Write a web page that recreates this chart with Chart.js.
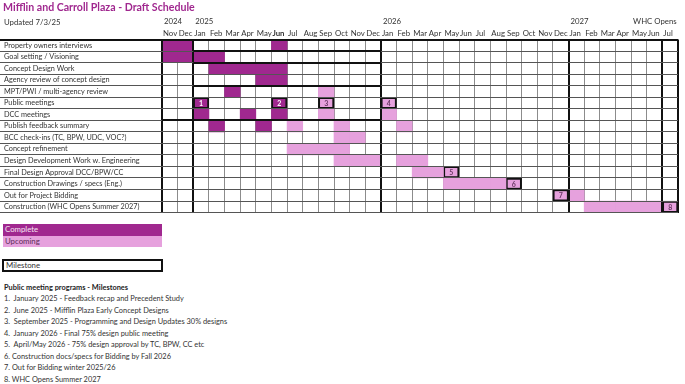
<!DOCTYPE html>
<html>
<head>
<meta charset="utf-8">
<script src="https://cdn.jsdelivr.net/npm/chart.js@4.4.1/dist/chart.umd.min.js"></script>
<style>
    body { margin: 0; background: #fff; }
    #wrap { position: relative; width: 685px; height: 384px; overflow: hidden;
            font-family: Lato, Roboto, sans-serif; color: #333; }
    #chart { position: absolute; left: 0; top: 0; }
    .title { position: absolute; left: 3px; top: 1px; font-size: 10.6px; font-weight: bold; color: #a0288f; }
    .updated { position: absolute; left: 4px; top: 17px; font-size: 7.8px; color: #333; }
    .cell { position: absolute; left: 3px; width: 157px; height: 11.5px; line-height: 11.5px;
            font-size: 7.8px; padding-left: 2px; }
    .complete { top: 224px; background: #a0288f; color: #f6e6f3; }
    .upcoming { top: 235.5px; background: #e6a1dd; color: #5b2d58; }
    .milestone { position: absolute; left: 2px; top: 259px; width: 155px; height: 9px; line-height: 9px;
                 border: 2px solid #111; font-size: 7.8px; padding-left: 2px; }
    .notes { position: absolute; left: 4px; top: 282px; font-size: 7.4px; line-height: 11.45px; white-space: pre; }
    .notes b { color: #222; }
</style>
</head>
<body>
<div id="wrap">
    <canvas id="chart" width="685" height="220"></canvas>
    <div class="title">Mifflin and Carroll Plaza - Draft Schedule</div>
    <div class="updated">Updated 7/3/25</div>
    <div class="cell complete">Complete</div>
    <div class="cell upcoming">Upcoming</div>
    <div class="milestone">Milestone</div>
    <div class="notes"><b>Public meeting programs - Milestones</b>
1.  January 2025 - Feedback recap and Precedent Study
2.  June 2025 - Mifflin Plaza Early Concept Designs
3.  September 2025 - Programming and Design Updates 30% designs
4.  January 2026 - Final 75% design public meeting
5.  April/May 2026 - 75% design approval by TC, BPW, CC etc
6. Construction docs/specs for Bidding by Fall 2026
7. Out for Bidding winter 2025/26
8. WHC Opens Summer 2027</div>
</div>

<script>
// Month columns, Nov 2024 .. Jul 2027
const months = ['Nov', 'Dec', 'Jan', 'Feb', 'Mar', 'Apr', 'May', 'Jun', 'Jul', 'Aug', 'Sep', 'Oct',
    'Nov', 'Dec', 'Jan', 'Feb', 'Mar', 'Apr', 'May', 'Jun', 'Jul', 'Aug', 'Sep', 'Oct',
    'Nov', 'Dec', 'Jan', 'Feb', 'Mar', 'Apr', 'May', 'Jun', 'Jul'];
const yearCols = [0, 2, 14, 26, 30];
const yearNames = ['2024', '2025', '2026', '2027', 'WHC Opens'];

const tasks = [
    'Property owners interviews',
    'Goal setting / Visioning',
    'Concept Design Work',
    'Agency review of concept design',
    'MPT/PWI / multi-agency review',
    'Public meetings',
    'DCC meetings',
    'Publish feedback summary',
    'BCC check-ins (TC, BPW, UDC, VOC?)',
    'Concept refinement',
    'Design Development Work w. Engineering',
    'Final Design Approval DCC/BPW/CC',
    'Construction Drawings / specs (Eng.)',
    'Out for Project Bidding',
    'Construction (WHC Opens Summer 2027)'
];

// month column indexes per task
const completeCells = [[0, 1, 7], [0, 1, 2, 3], [3, 4, 5, 6, 7], [6, 7], [4], [], [2, 5, 7], [3, 6],
    [], [], [], [], [], [], []];
const upcomingCells = [[], [], [], [], [10], [], [10, 14], [8, 11, 15], [11, 12], [8, 9, 10, 11],
    [11, 12, 13, 15, 16], [16, 17], [18, 19, 20, 21], [26], [27, 28, 29, 30, 31]];

const milestoneNums = [1, 2, 3, 4, 5, 6, 7, 8];
const milestoneRows = [5, 5, 5, 5, 11, 12, 13, 14];
const milestoneCols = [2, 7, 10, 14, 18, 22, 25, 32];
const milestoneDone = [true, true, false, false, false, false, false, false];

// heavy cell borders of the sheet
const thickCols = [0, 2, 14, 26, 32, 33];
const boxEdgeRows = [1, 2, 4, 7];
const boxEdgeFrom = [2, 2, 2, 0];
const boxEdgeTo = [14, 14, 14, 14];

const PURPLE = '#a0288f';
const PINK = '#e6a1dd';
const FONT = "Lato, Roboto, sans-serif";

function cellsToBars(cells) {
    const out = [];
    cells.forEach((cols, r) => {
        cols.forEach(c => out.push({ x: [c, c + 1], y: tasks[r] }));
    });
    return out;
}

const milestoneBars = milestoneNums.map((n, i) => ({
    x: [milestoneCols[i], milestoneCols[i] + 1],
    y: tasks[milestoneRows[i]]
}));

// numbers inside milestone boxes
const milestoneText = {
    id: 'milestoneText',
    afterDatasetsDraw(chart) {
        const meta = chart.getDatasetMeta(2);
        const ctx = chart.ctx;
        ctx.save();
        ctx.font = 'bold 7px ' + FONT;
        ctx.textAlign = 'center';
        ctx.textBaseline = 'middle';
        meta.data.forEach((bar, i) => {
            ctx.fillStyle = milestoneDone[i] ? '#ffffff' : '#6b3a66';
            ctx.fillText(String(milestoneNums[i]), (bar.x + bar.base) / 2, bar.y + 0.5);
        });
        ctx.restore();
    }
};

// partial heavy borders around the 2025 block
const boxEdges = {
    id: 'boxEdges',
    afterDraw(chart) {
        const xs = chart.scales.x, ys = chart.scales.y;
        const ctx = chart.ctx;
        ctx.save();
        ctx.strokeStyle = '#111';
        ctx.lineWidth = 2;
        boxEdgeRows.forEach((r, i) => {
            const y = Math.round(ys.getPixelForValue(r - 0.5));
            ctx.beginPath();
            ctx.moveTo(xs.getPixelForValue(boxEdgeFrom[i]), y);
            ctx.lineTo(xs.getPixelForValue(boxEdgeTo[i]), y);
            ctx.stroke();
        });
        ctx.restore();
    }
};

Chart.defaults.font.family = FONT;
Chart.defaults.color = '#333';

const lastEdge = tasks.length;

new Chart(document.getElementById('chart'), {
    type: 'bar',
    data: {
        labels: tasks,
        datasets: [
            { label: 'Complete', data: cellsToBars(completeCells), backgroundColor: PURPLE, borderWidth: 0 },
            { label: 'Upcoming', data: cellsToBars(upcomingCells), backgroundColor: PINK, borderWidth: 0 },
            {
                label: 'Milestone', data: milestoneBars,
                backgroundColor: milestoneDone.map(d => d ? PURPLE : PINK),
                borderColor: '#111', borderWidth: 2, borderSkipped: false
            }
        ]
    },
    options: {
        indexAxis: 'y',
        responsive: false,
        animation: false,
        devicePixelRatio: 1,
        layout: { padding: { left: 4, right: 7, top: 16.5, bottom: 7 } },
        datasets: { bar: { grouped: false, categoryPercentage: 1, barPercentage: 1 } },
        plugins: { legend: { display: false }, tooltip: { enabled: false } },
        scales: {
            x: {
                type: 'linear', position: 'top', min: 0, max: 33,
                afterBuildTicks: s => { s.ticks = months.map((m, i) => ({ value: i })); },
                ticks: {
                    autoSkip: false, maxRotation: 0, align: 'start', padding: 1.5, labelOffset: 1,
                    color: '#333',
                    font: ctx => ({ size: 7.8, weight: ctx.index === 7 ? 'bold' : 'normal' }),
                    callback: v => months[v]
                },
                grid: { color: '#8c8c8c', lineWidth: 1, drawTicks: false },
                border: { display: false },
                afterFit: s => { s.height = 12; }
            },
            xYear: {
                type: 'linear', position: 'top', min: 0, max: 33, weight: 1,
                afterBuildTicks: s => { s.ticks = yearCols.map(v => ({ value: v })); },
                ticks: {
                    autoSkip: false, maxRotation: 0, align: 'start', padding: 1, labelOffset: 2,
                    color: '#333', font: { size: 7.8 },
                    callback: v => yearNames[yearCols.indexOf(v)]
                },
                grid: { display: false, drawTicks: false },
                border: { display: false },
                afterFit: s => { s.height = 11; }
            },
            xThick: {
                type: 'linear', position: 'bottom', min: 0, max: 33,
                afterBuildTicks: s => { s.ticks = thickCols.map(v => ({ value: v })); },
                ticks: { display: false },
                grid: { z: 1, color: '#111', lineWidth: 2, drawTicks: false },
                border: { display: false },
                afterFit: s => { s.height = 0; }
            },
            y: {
                type: 'category', offset: true,
                grid: {
                    offset: true, z: 1, drawTicks: true, tickLength: 162,
                    color: ctx => (ctx.index === 0 || ctx.index === lastEdge) ? '#111' : '#555',
                    lineWidth: ctx => (ctx.index === 0 || ctx.index === lastEdge) ? 2 : 1
                },
                ticks: { crossAlign: 'far', autoSkip: false, color: '#333', font: { size: 7.3 } },
                border: { display: false },
                afterFit: s => { s.width = 158; }
            }
        }
    },
    plugins: [milestoneText, boxEdges]
});
</script>
</body>
</html>
